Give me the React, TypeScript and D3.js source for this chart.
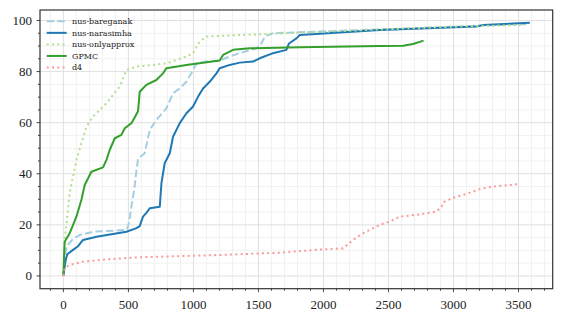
import React from "react";
import * as d3 from "d3";

// cumulative percentage curves
const bareganak: [number, number][] = [
  [0, 0], [10, 6], [23, 11.5], [74, 14.5], [125, 16], [228, 17.3], [485, 18], [497, 19.3],
  [510, 22.5], [523, 27.1], [548, 35], [556, 38.9], [574, 45.8], [625, 48], [664, 57.1],
  [715, 61.1], [792, 65.6], [843, 71.5], [895, 73.4], [946, 76], [997, 80.6], [1023, 83.2],
  [1100, 83.9], [1202, 84.3], [1279, 85.9], [1356, 87.2], [1484, 89.1], [1523, 91],
  [1548, 93.7], [1612, 95], [2433, 96.5], [3000, 97.5], [3200, 98], [3560, 98.6],
];
const narasimha: [number, number][] = [
  [0, 0], [5, 2], [18, 6.3], [30, 8.5], [74, 10.2], [110, 11.5], [151, 14.1], [254, 15.3],
  [485, 17.3], [562, 18.7], [587, 19.5], [612, 23.2], [640, 24.8], [664, 26.5], [741, 27.1],
  [754, 36.3], [779, 44.1], [818, 48], [843, 54.5], [895, 59.8], [946, 63.7], [997, 66.3],
  [1036, 70.2], [1074, 73.4], [1125, 76], [1177, 79.3], [1202, 81.3], [1279, 82.6],
  [1356, 83.5], [1458, 83.9], [1510, 85.2], [1612, 87.2], [1715, 88.5], [1735, 91],
  [1792, 93], [1818, 94.3], [2433, 96.3], [3177, 97.6], [3228, 98.2], [3587, 99.1],
];
const onlyapprox: [number, number][] = [
  [0, 0], [5, 8], [10, 14.1], [48, 32.4], [100, 45.4], [177, 58.4], [228, 62.4],
  [331, 67.6], [433, 74.1], [485, 80.6], [562, 82], [690, 82.6], [792, 83.2], [946, 85.9],
  [997, 87.2], [1048, 91.7], [1100, 93.7], [1356, 94.3], [1818, 95.2], [2433, 96.5],
  [3125, 97.8], [3548, 98.2],
];
const gpmc: [number, number][] = [
  [0, 0], [5, 8], [10, 13.4], [48, 16.7], [100, 23.2], [138, 29.7], [164, 35.6],
  [215, 40.8], [305, 42.5], [331, 45.4], [356, 49.3], [395, 53.9], [446, 55.2],
  [472, 57.8], [523, 59.8], [548, 62], [574, 64.5], [587, 72.1], [638, 74.8], [715, 76.7],
  [766, 79.3], [792, 81.3], [946, 82.6], [1202, 84.3], [1228, 86.5], [1305, 88.5],
  [1433, 89.1], [1818, 89.5], [2433, 90], [2612, 90.1], [2689, 90.8], [2770, 92.1],
];
const d4: [number, number][] = [
  [0, 0], [10, 3.1], [48, 4.3], [151, 5.6], [331, 6.5], [587, 7.3], [1202, 8.2],
  [1664, 9.1], [1997, 10.4], [2151, 10.8], [2228, 14.1], [2305, 16.7], [2433, 20],
  [2510, 21.3], [2587, 23.2], [2742, 24.1], [2869, 25.2], [2908, 27.1], [2920, 28.8],
  [2997, 30.6], [3074, 31.7], [3151, 33], [3202, 34], [3305, 35], [3490, 35.9],
];

const seriesNames = ["nus-bareganak", "nus-narasimha", "nus-onlyapprox", "GPMC", "d4"];
const seriesData = [bareganak, narasimha, onlyapprox, gpmc, d4];
const seriesColors = ["#a6cee3", "#1f78b4", "#b2df8a", "#33a02c", "#fb9a99"];
const seriesDash = ["7.4,3.2", null, "2,3.3", null, "2,3.3"];

const xMajor = [0, 500, 1000, 1500, 2000, 2500, 3000, 3500];
const yMajor = [0, 20, 40, 60, 80, 100];

const W = 563;
const H = 321;
const left = 40, right = 552.7, top = 10, bottom = 288.7;

const App = () => {
  const x = d3.scaleLinear().domain([-180, 3763]).range([left, right]);
  const y = d3.scaleLinear().domain([-5, 104.1]).range([bottom, top]);
  const line = d3.line<[number, number]>().x((d) => x(d[0])).y((d) => y(d[1]));

  const xMinor = d3.range(-100, 3701, 100).filter((v) => v % 500 !== 0);
  const yMinor = d3.range(5, 101, 5).filter((v) => v % 20 !== 0);

  return (
    <svg width={W} height={H} style={{ position: "absolute", left: 0, top: 0, background: "#fff" }}>
      {/* minor grid */}
      <g stroke="#eeeeee" strokeWidth={0.8}>
        {xMinor.map((v) => (
          <line key={"xm" + v} x1={x(v)} x2={x(v)} y1={top} y2={bottom} />
        ))}
        {yMinor.map((v) => (
          <line key={"ym" + v} x1={left} x2={right} y1={y(v)} y2={y(v)} />
        ))}
      </g>
      {/* major grid */}
      <g stroke="#dddddd" strokeWidth={0.9}>
        {xMajor.map((v) => (
          <line key={"xg" + v} x1={x(v)} x2={x(v)} y1={top} y2={bottom} />
        ))}
        {yMajor.map((v) => (
          <line key={"yg" + v} x1={left} x2={right} y1={y(v)} y2={y(v)} />
        ))}
      </g>

      {seriesData.map((s, i) => (
        <path
          key={seriesNames[i]}
          d={line(s) ?? ""}
          fill="none"
          stroke={seriesColors[i]}
          strokeWidth={2}
          strokeDasharray={seriesDash[i] ?? undefined}
          strokeLinejoin="round"
        />
      ))}

      {/* spines */}
      <rect x={left} y={top} width={right - left} height={bottom - top} fill="none" stroke="#333" strokeWidth={1.2} />

      {/* ticks */}
      <g stroke="#333" strokeWidth={0.9}>
        {xMajor.map((v) => (
          <line key={"xt" + v} x1={x(v)} x2={x(v)} y1={bottom} y2={bottom + 3.5} />
        ))}
        {xMinor.map((v) => (
          <line key={"xmt" + v} x1={x(v)} x2={x(v)} y1={bottom} y2={bottom + 2} />
        ))}
        {yMajor.map((v) => (
          <line key={"yt" + v} x1={left} x2={left - 3.5} y1={y(v)} y2={y(v)} />
        ))}
        {yMinor.map((v) => (
          <line key={"ymt" + v} x1={left} x2={left - 2} y1={y(v)} y2={y(v)} />
        ))}
      </g>
      <g fontFamily="'Liberation Serif', serif" fontSize={13} fill="#222">
        {xMajor.map((v) => (
          <text key={"xl" + v} x={x(v)} y={308.5} textAnchor="middle">
            {v}
          </text>
        ))}
        {yMajor.map((v) => (
          <text key={"yl" + v} x={32} y={y(v)} dy="0.33em" textAnchor="end">
            {v}
          </text>
        ))}
      </g>

      {/* legend */}
      <g fontFamily="'DejaVu Serif', serif" fontSize={8} fill="#222">
        {seriesNames.map((name, i) => {
          const cy = 21.3 + i * 11.55;
          return (
            <g key={"lg" + name}>
              <line
                x1={46.7}
                x2={66.7}
                y1={cy}
                y2={cy}
                stroke={seriesColors[i]}
                strokeWidth={2}
                strokeDasharray={seriesDash[i] ?? undefined}
              />
              <text x={72} y={cy} dy="0.35em">
                {name}
              </text>
            </g>
          );
        })}
      </g>
    </svg>
  );
};

export default App;
